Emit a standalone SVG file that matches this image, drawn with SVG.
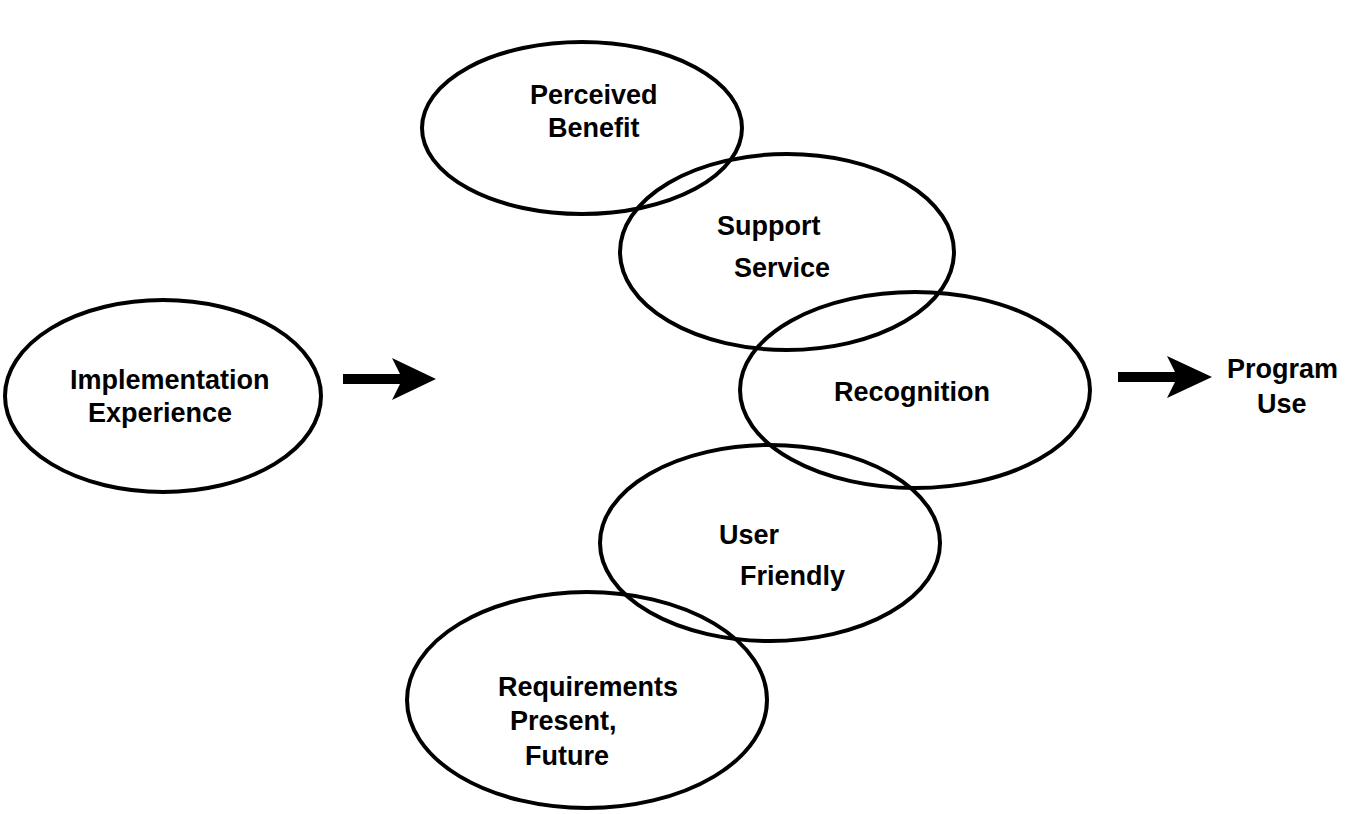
<svg xmlns="http://www.w3.org/2000/svg" width="1345" height="814" viewBox="0 0 1345 814">
<style>
.n ellipse{fill:none;stroke:#000;stroke-width:4}
text{font-family:"Liberation Sans",Arial,sans-serif;font-weight:bold;font-size:27px;fill:#000}
.a{fill:#000}
</style>
<rect width="1345" height="814" fill="#fff"/>
<g id="implementation"><g class="n"><ellipse cx="163" cy="396" rx="158" ry="96"/></g>
<text x="70" y="389">Implementation</text><text x="88" y="422">Experience</text></g>
<g id="perceived"><g class="n"><ellipse cx="582" cy="128" rx="160" ry="86"/></g>
<text x="530" y="104">Perceived</text><text x="548" y="137">Benefit</text></g>
<g id="support"><g class="n"><ellipse cx="787" cy="252" rx="167" ry="98"/></g>
<text x="717" y="235">Support</text><text x="734" y="277">Service</text></g>
<g id="recognition"><g class="n"><ellipse cx="915" cy="390" rx="175" ry="98"/></g>
<text x="834" y="401">Recognition</text></g>
<g id="userfriendly"><g class="n"><ellipse cx="770" cy="543" rx="170" ry="98"/></g>
<text x="719" y="544">User</text><text x="740" y="585">Friendly</text></g>
<g id="requirements"><g class="n"><ellipse cx="587" cy="700" rx="180" ry="108"/></g>
<text x="498" y="696">Requirements</text><text x="510" y="730">Present,</text><text x="525" y="765">Future</text></g>
<g id="programuse"><g><text x="1227" y="378">Program</text><text x="1257" y="413">Use</text></g></g>
<g id="connectors">
<path class="a" d="M343 374 L400 374 L392 358 L436 379 L392 400 L400 384 L343 384 Z"/>
<path class="a" d="M1118 372 L1175 372 L1167 356 L1212 377 L1167 398 L1175 382 L1118 382 Z"/>
</g>
</svg>
